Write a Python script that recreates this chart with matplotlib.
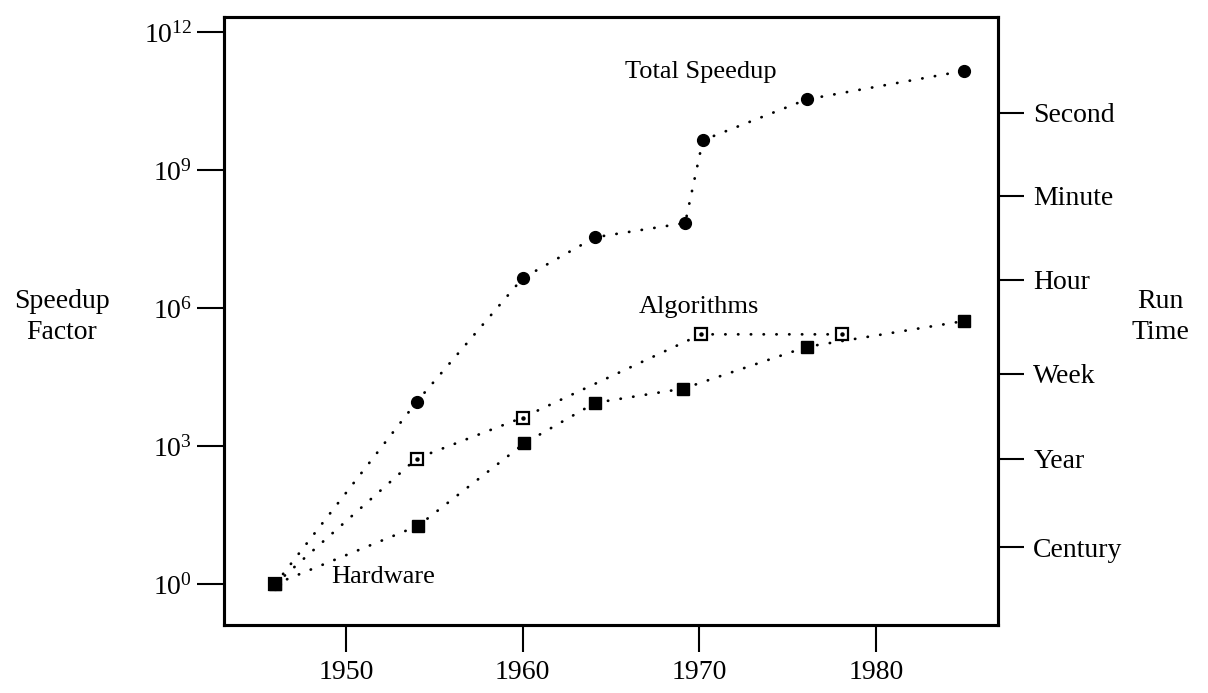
import numpy as np
from matplotlib import pyplot as plt
from matplotlib.ticker import FixedLocator, NullLocator

plt.rcParams['font.family'] = ['Liberation Serif', 'DejaVu Serif']
plt.rcParams['mathtext.fontset'] = 'custom'
plt.rcParams['mathtext.rm'] = 'Liberation Serif'

# speedup factors are stored as log10 values
total_years = [1946, 1954, 1960, 1964.1, 1969.2, 1970.2, 1976.1, 1985]
total_log = [0, 3.96, 6.65, 7.54, 7.85, 9.65, 10.54, 11.16]

algo_years = [1946, 1954, 1960, 1970.1, 1978.1]
algo_log = [0, 2.73, 3.62, 5.43, 5.43]

hw_years = [1946, 1954.1, 1960.1, 1964.1, 1969.1, 1976.1, 1985]
hw_log = [0, 1.27, 3.06, 3.94, 4.25, 5.16, 5.72]

year_ticks = [1950, 1960, 1970, 1980]
speedup_ticks = [0, 3, 6, 9, 12]

run_time_labels = ['Second', 'Minute', 'Hour', 'Week', 'Year', 'Century']
run_time_log = [10.25, 8.44, 6.62, 4.57, 2.73, 0.80]

FS = 20
dotted = dict(color='black', linewidth=2.0, linestyle=(0, (0.1, 4.5)),
              dash_capstyle='round')


def draw_series(ax):
    ax.plot(total_years, 10.0 ** np.array(total_log), **dotted, zorder=2)
    ax.plot(algo_years, 10.0 ** np.array(algo_log), **dotted, zorder=2)
    ax.plot(hw_years, 10.0 ** np.array(hw_log), **dotted, zorder=2)

    ax.plot(total_years, 10.0 ** np.array(total_log), 'o', color='black',
            markersize=8.5, zorder=3)
    ax.plot(algo_years, 10.0 ** np.array(algo_log), 's', markerfacecolor='white',
            markeredgecolor='black', markeredgewidth=1.6, markersize=9, zorder=3)
    ax.plot(algo_years, 10.0 ** np.array(algo_log), 'o', color='black',
            markersize=2.2, zorder=4)
    ax.plot(hw_years, 10.0 ** np.array(hw_log), 's', color='black',
            markersize=8.5, zorder=5)

    ax.text(1970.1, 10 ** 11.13, 'Total Speedup', fontsize=FS - 1,
            ha='center', va='center')
    ax.text(1970.0, 10 ** 6.03, 'Algorithms', fontsize=FS - 1,
            ha='center', va='center')
    ax.text(1952.1, 10 ** 0.16, 'Hardware', fontsize=FS - 1,
            ha='center', va='center')


def style_axes(ax, ax_r):
    ax.set_yscale('log')
    ax.set_xlim(1943.1, 1986.9)
    ax.set_ylim(10 ** -0.89, 10 ** 12.33)

    ax.xaxis.set_major_locator(FixedLocator(year_ticks))
    ax.set_xticklabels([str(y) for y in year_ticks], fontsize=FS)
    ax.yaxis.set_major_locator(FixedLocator([10.0 ** k for k in speedup_ticks]))
    ax.yaxis.set_minor_locator(NullLocator())
    ax.set_yticklabels([r'$\mathregular{10^{%d}}$' % k for k in speedup_ticks],
                       fontsize=FS)
    ax.tick_params(axis='both', direction='out', length=19.5, width=1.5)
    ax.tick_params(axis='y', pad=3.5)
    ax.tick_params(axis='x', pad=6)

    ax_r.set_yscale('log')
    ax_r.set_ylim(ax.get_ylim())
    ax_r.yaxis.set_major_locator(FixedLocator([10.0 ** v for v in run_time_log]))
    ax_r.yaxis.set_minor_locator(NullLocator())
    ax_r.set_yticklabels(run_time_labels, fontsize=FS)
    ax_r.tick_params(axis='y', direction='out', length=18.5, width=1.5, pad=7)

    for a in (ax, ax_r):
        for s in a.spines.values():
            s.set_linewidth(2.2)


def main():
    fig = plt.figure(figsize=(12.08, 6.93), dpi=100)
    ax = fig.add_axes([0.1854, 0.0981, 0.6407, 0.8774])
    ax_r = ax.twinx()

    draw_series(ax)
    style_axes(ax, ax_r)

    fig.text(62 / 1208, 1 - 317 / 693, 'Speedup\nFactor', fontsize=FS,
             ha='center', va='center', linespacing=1.3)
    fig.text(1160 / 1208, 1 - 317 / 693, 'Run\nTime', fontsize=FS,
             ha='center', va='center', linespacing=1.3)

    fig.savefig('out.png', dpi=100, facecolor='white')


if __name__ == "__main__":
    main()
